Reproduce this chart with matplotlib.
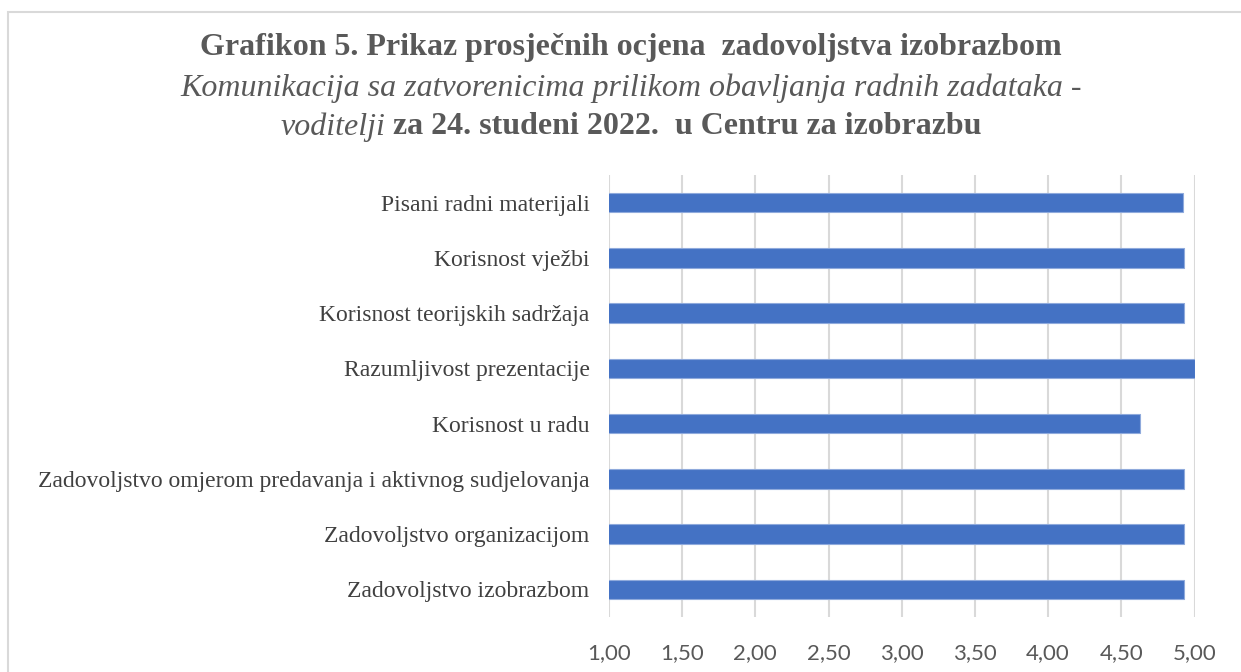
import matplotlib.pyplot as plt
from matplotlib.patches import Rectangle
from matplotlib.ticker import FuncFormatter, MultipleLocator

# podaci (odozdo prema gore)
kategorije = [
    "Zadovoljstvo izobrazbom",
    "Zadovoljstvo organizacijom",
    "Zadovoljstvo omjerom predavanja i aktivnog sudjelovanja",
    "Korisnost u radu",
    "Razumljivost prezentacije",
    "Korisnost teorijskih sadržaja",
    "Korisnost vježbi",
    "Pisani radni materijali",
]
ocjene = [4.93, 4.93, 4.93, 4.63, 5.00, 4.93, 4.93, 4.92]

W, H = 1241, 672
fig = plt.figure(figsize=(W / 100, H / 100), dpi=100)

# okvir grafikona
fig.patches.append(Rectangle((8 / W, -0.1), 1.2, 1 - 12 / H + 0.1,
                             transform=fig.transFigure, fill=False,
                             edgecolor='#d9d9d9', lw=1.5))

ax = fig.add_axes([609 / W, 1 - 617 / H, (1194.5 - 609) / W, (617 - 175) / H])
y = range(len(kategorije))
ax.barh(y, ocjene, height=0.35, color='#4472c4', edgecolor='#8faadc', lw=0.8, zorder=3)

ax.set_xlim(1, 5)
ax.set_ylim(-0.5, len(kategorije) - 0.5)
ax.xaxis.set_major_locator(MultipleLocator(0.5))
ax.xaxis.set_major_formatter(FuncFormatter(lambda v, p: f"{v:.2f}".replace('.', ',')))
ax.grid(axis='x', color='#d9d9d9', lw=1.5, zorder=0)
for s in ax.spines.values():
    s.set_visible(False)
ax.tick_params(axis='x', length=0, pad=19, labelsize=16, labelcolor='#595959')
ax.tick_params(axis='y', length=0, pad=14)
ax.set_yticks(list(y))
ax.set_yticklabels(kategorije, family='Liberation Serif', fontsize=17, color='#404040')
for lbl in ax.get_xticklabels():
    lbl.set_family('Lato')

# naslov
tc = '#595959'
xc = 631 / W
fig.text(xc, 1 - 48 / H, "Grafikon 5. Prikaz prosječnih ocjena  zadovoljstva izobrazbom",
         ha='center', va='center', family='Liberation Serif', fontweight='bold',
         fontsize=23, color=tc)
fig.text(xc, 1 - 88 / H, "Komunikacija sa zatvorenicima prilikom obavljanja radnih zadataka -",
         ha='center', va='center', family='Liberation Serif', style='italic',
         fontsize=23, color=tc)

# treći red: dio u kurzivu, dio podebljan
r = fig.canvas.get_renderer()
t1 = fig.text(0, 1 - 127 / H, "voditelji", ha='left', va='center',
              family='Liberation Serif', style='italic', fontsize=23, color=tc)
t2 = fig.text(0, 1 - 127 / H, " za 24. studeni 2022.  u Centru za izobrazbu", ha='left',
              va='center', family='Liberation Serif', fontweight='bold', fontsize=23, color=tc)
w1 = t1.get_window_extent(r).width
w2 = t2.get_window_extent(r).width
x0 = xc * W - (w1 + w2) / 2
t1.set_x(x0 / W)
t2.set_x((x0 + w1) / W)

fig.savefig('out.png', dpi=100)
